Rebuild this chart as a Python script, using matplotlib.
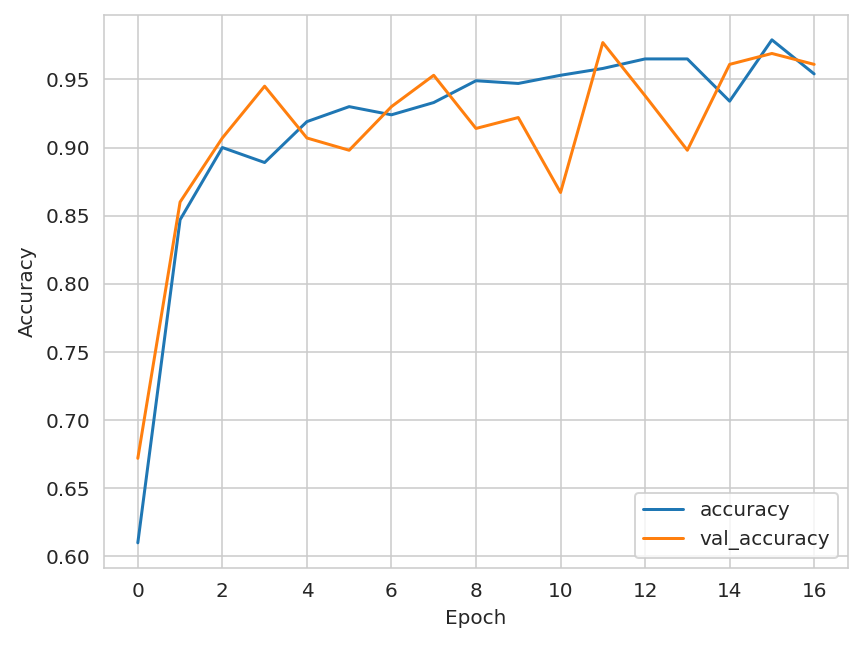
import matplotlib
matplotlib.use("Agg")
import matplotlib.pyplot as plt
import seaborn as sns

epochs = list(range(17))
accuracy = [0.610, 0.847, 0.900, 0.889, 0.919, 0.930, 0.924, 0.933, 0.949,
            0.947, 0.953, 0.958, 0.965, 0.965, 0.934, 0.979, 0.954]
val_accuracy = [0.672, 0.860, 0.907, 0.945, 0.907, 0.898, 0.930, 0.953, 0.914,
                0.922, 0.867, 0.977, 0.938, 0.898, 0.961, 0.969, 0.961]

sns.set_style("whitegrid")

DPI = 144
fig, ax = plt.subplots(figsize=(863 / DPI, 647 / DPI), dpi=DPI)
ax.plot(epochs, accuracy, label="accuracy", color="#1f77b4")
ax.plot(epochs, val_accuracy, label="val_accuracy", color="#ff7f0e")
ax.set_xlabel("Epoch")
ax.set_ylabel("Accuracy")
ax.set_xticks(range(0, 17, 2))
ax.legend(loc="lower right")
fig.subplots_adjust(left=0.1205, right=0.9826, top=0.9773, bottom=0.1221)
fig.savefig("out.png", dpi=DPI)
